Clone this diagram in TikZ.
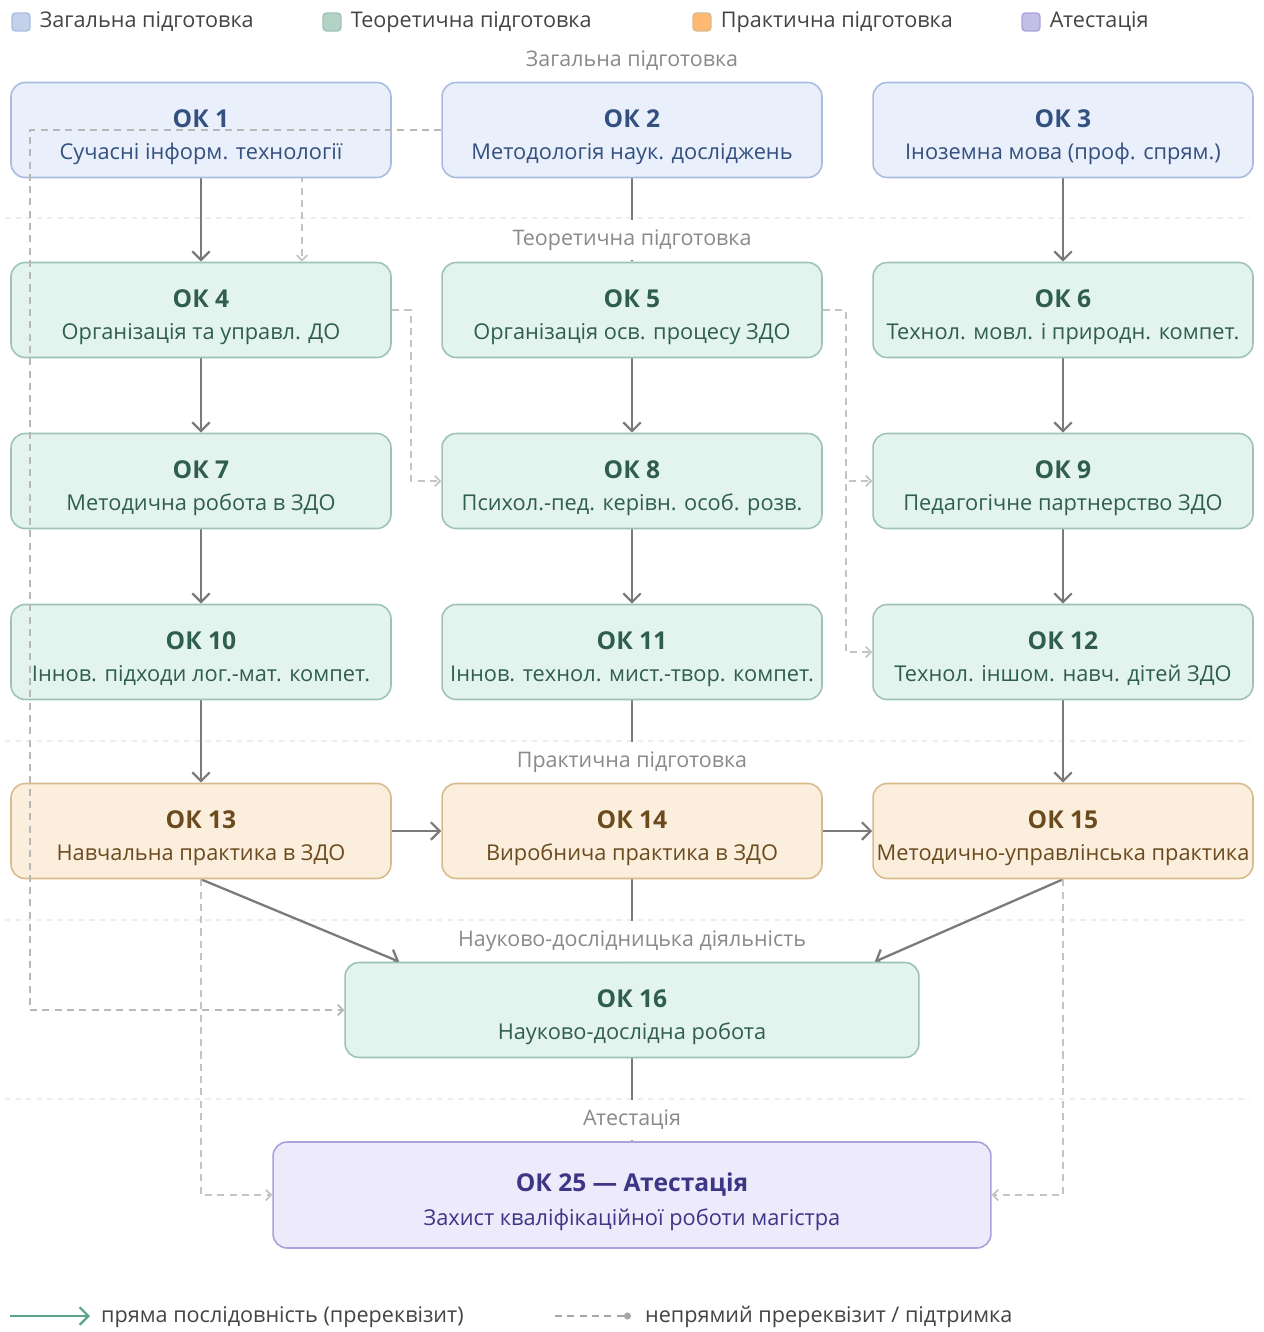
\documentclass[tikz,border=0pt]{standalone}
\usepackage{fontspec}
\setmainfont{Open Sans}
\usetikzlibrary{arrows.meta, positioning, calc, backgrounds}

\definecolor{genfill}{HTML}{E9F0FB}
\definecolor{gendraw}{HTML}{A9BCE0}
\definecolor{gentext}{HTML}{34507F}
\definecolor{theofill}{HTML}{E3F4EE}
\definecolor{theodraw}{HTML}{9DC3B3}
\definecolor{theotext}{HTML}{2F5E4E}
\definecolor{pracfill}{HTML}{FBEEDC}
\definecolor{pracdraw}{HTML}{D9BA8C}
\definecolor{practext}{HTML}{6B4A1E}
\definecolor{attfill}{HTML}{ECEAFB}
\definecolor{attdraw}{HTML}{A9A2DB}
\definecolor{atttext}{HTML}{3E3585}
\definecolor{arrowgray}{HTML}{7A7A7A}
\definecolor{dashgray}{HTML}{C4C4C4}
\definecolor{secgray}{HTML}{8A8A8A}
\definecolor{legtextgray}{HTML}{444444}
\definecolor{seqgreen}{HTML}{5BA38A}

\newcommand{\okt}[2]{\rule{0pt}{18pt}{\fontsize{14}{16}\selectfont\bfseries #1}\\[6pt]{\fontsize{12.4}{15}\selectfont #2}}

\tikzset{
  okbox/.style={draw, rounded corners=8pt, line width=0.9pt, minimum width=7.6cm,
    minimum height=1.9cm, align=center, inner sep=2pt},
  gen/.style={okbox, fill=genfill, draw=gendraw, text=gentext},
  theo/.style={okbox, fill=theofill, draw=theodraw, text=theotext},
  prac/.style={okbox, fill=pracfill, draw=pracdraw, text=practext},
  att/.style={okbox, fill=attfill, draw=attdraw, text=atttext},
  seclabel/.style={fill=white, text=secgray, font=\fontsize{12.2}{14}\selectfont,
    minimum height=0.8cm, inner xsep=3pt},
  seq/.style={draw=arrowgray, line width=1.3pt, -{Straight Barb[length=5pt,width=10pt]}},
  supline/.style={draw=dashgray, line width=1pt, dash pattern=on 4pt off 3pt,
    -{Straight Barb[length=3pt,width=6pt]}},
  sepline/.style={draw=black!7, line width=0.8pt, dash pattern=on 3pt off 3pt},
  legsq/.style={rounded corners=2pt, line width=0.8pt, minimum size=0.36cm, inner sep=0pt},
  legtext/.style={text=legtextgray, font=\fontsize{12.3}{15}\selectfont, inner sep=1pt}
}

\begin{document}
\begin{tikzpicture}[x=0.02cm, y=-0.02cm]
		\useasboundingbox (0,0) rectangle (1264,1332);
		% Section separators
		\begin{scope}[on background layer]
			\foreach \yy in {218, 741, 920, 1099}
				\draw[sepline] (5,\yy) -- (1250,\yy);
		\end{scope}
		% Legend (groups)
		\node[legsq, fill=genfill!40!gendraw, draw=gendraw] (lg1) at (21,22) {};
		\node[legtext, right=4pt of lg1] {Загальна підготовка};
		\node[legsq, fill=theofill!30!theodraw, draw=theodraw] (lg2) at (332,22) {};
		\node[legtext, right=4pt of lg2] {Теоретична підготовка};
		\node[legsq, fill=pracfill!10!orange!60, draw=pracdraw] (lg3) at (702,22) {};
		\node[legtext, right=4pt of lg3] {Практична підготовка};
		\node[legsq, fill=attfill!40!attdraw, draw=attdraw] (lg4) at (1031,22) {};
		\node[legtext, right=4pt of lg4] {Атестація};
		% Section labels
		\node[seclabel] (s1) at (632,61) {Загальна підготовка};
		\node[seclabel] (s2) at (632,240) {Теоретична підготовка};
		\node[seclabel] (s3) at (632,762) {Практична підготовка};
		\node[seclabel] (s4) at (632,941) {Науково-дослідницька діяльність};
		\node[seclabel] (s5) at (632,1120) {Атестація};
		% General training
		\node[gen] (ok1) at (201,130) {\okt{ОК 1}{Сучасні інформ. технології}};
		\node[gen] (ok2) at (632,130) {\okt{ОК 2}{Методологія наук. досліджень}};
		\node[gen] (ok3) at (1063,130) {\okt{ОК 3}{Іноземна мова (проф. спрям.)}};
		% Theoretical training
		\node[theo] (ok4) at (201,310) {\okt{ОК 4}{Організація та управл. ДО}};
		\node[theo] (ok5) at (632,310) {\okt{ОК 5}{Організація осв. процесу ЗДО}};
		\node[theo] (ok6) at (1063,310) {\okt{ОК 6}{Технол. мовл. і природн. компет.}};
		\node[theo] (ok7) at (201,481) {\okt{ОК 7}{Методична робота в ЗДО}};
		\node[theo] (ok8) at (632,481) {\okt{ОК 8}{Психол.-пед. керівн. особ. розв.}};
		\node[theo] (ok9) at (1063,481) {\okt{ОК 9}{Педагогічне партнерство ЗДО}};
		\node[theo] (ok10) at (201,652) {\okt{ОК 10}{Іннов. підходи лог.-мат. компет.}};
		\node[theo] (ok11) at (632,652) {\okt{ОК 11}{Іннов. технол. мист.-твор. компет.}};
		\node[theo] (ok12) at (1063,652) {\okt{ОК 12}{Технол. іншом. навч. дітей ЗДО}};
		% Practical training
		\node[prac] (ok13) at (201,831) {\okt{ОК 13}{Навчальна практика в ЗДО}};
		\node[prac] (ok14) at (632,831) {\okt{ОК 14}{Виробнича практика в ЗДО}};
		\node[prac] (ok15) at (1063,831) {\okt{ОК 15}{Методично-управлінська практика}};
		% Research
		\node[theo, minimum width=11.48cm] (ok16) at (632,1010) {\okt{ОК 16}{Науково-дослідна робота}};
		% Attestation
		\node[att, minimum width=14.36cm, minimum height=2.12cm] (ok25) at (632,1195)
			{\okt{ОК 25 — Атестація}{Захист кваліфікаційної роботи магістра}};
		% Direct sequence
		\begin{scope}[on background layer]
			\foreach \a/\b in {ok1/ok4, ok2/ok5, ok3/ok6, ok4/ok7, ok5/ok8, ok6/ok9,
				ok7/ok10, ok8/ok11, ok9/ok12, ok10/ok13, ok11/ok14, ok12/ok15, ok14/ok16, ok16/ok25}
				\draw[seq] (\a.south) -- (\b.north);
			\draw[seq] (ok13.east) -- (ok14.west);
			\draw[seq] (ok14.east) -- (ok15.west);
			\draw[seq] (ok13.south) -- ([xshift=1.1cm]ok16.north west);
			\draw[seq] (ok15.south) -- ([xshift=-0.9cm]ok16.north east);
			% Indirect links
			\draw[supline] (ok2.west) -- (302,130) -- (ok4.north -| 302,0);
			\draw[supline] (ok4.east) -- ++(19,0) |- (ok8.west);
			\draw[supline] (ok5.east) -- ++(23,0) |- (ok9.west);
			\draw[supline] (ok5.east) -- ++(23,0) |- (ok12.west);
			\draw[supline] (ok13.south) |- (ok25.west);
			\draw[supline] (ok15.south) |- (ok25.east);
		\end{scope}
		\draw[supline, draw=black!28] (ok2.west) -- (30,130) -- (30,1010) -- (ok16.west);
		% Legend (links)
		\coordinate (la) at (10,1316);
		\node[legtext, anchor=west] (lseq) at (99,1317) {пряма послідовність (пререквізит)};
		\draw[draw=seqgreen, line width=1.3pt, -{Straight Barb[length=5pt,width=10pt]}]
			(la) -- ([xshift=-0.18cm]lseq.west |- la);
		\coordinate (lb) at (555,1316);
		\node[legtext, anchor=west] (lsup) at (643,1317) {непрямий пререквізит / підтримка};
		\draw[draw=black!35, line width=1pt, dash pattern=on 4pt off 3pt, -{Circle[length=4pt]}]
			(lb) -- ([xshift=-0.24cm]lsup.west |- lb);
	\end{tikzpicture}
\end{document}
